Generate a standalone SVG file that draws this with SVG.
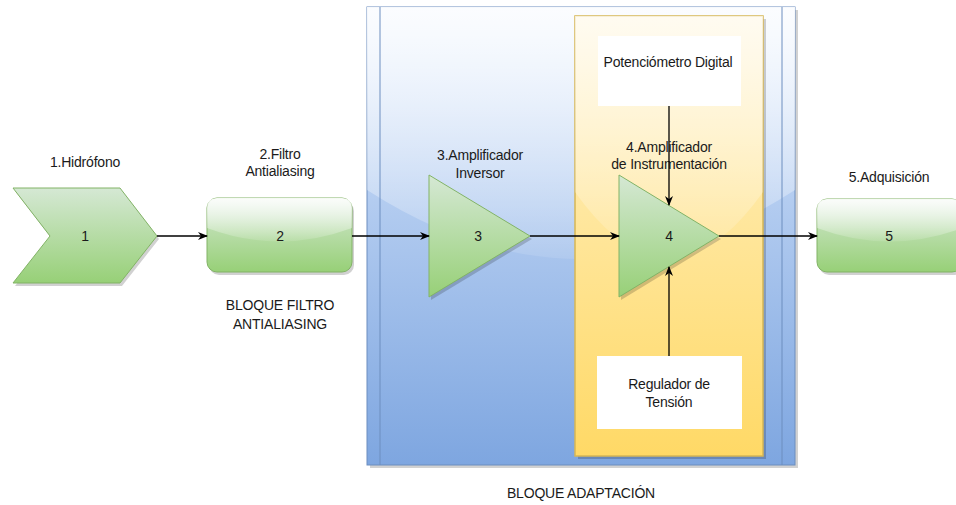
<svg xmlns="http://www.w3.org/2000/svg" width="956" height="505" viewBox="0 0 956 505">
<defs>
<linearGradient id="gGreen" x1="0" y1="0" x2="0" y2="1">
<stop offset="0" stop-color="#d5e8d4"/><stop offset="1" stop-color="#97d077"/>
</linearGradient>
<linearGradient id="gBlue" x1="0" y1="0" x2="0" y2="1">
<stop offset="0" stop-color="#dae8fc"/><stop offset="1" stop-color="#7ea6e0"/>
</linearGradient>
<linearGradient id="gYellow" x1="0" y1="0" x2="0" y2="1">
<stop offset="0" stop-color="#fff2cc"/><stop offset="1" stop-color="#ffd966"/>
</linearGradient>
<linearGradient id="gGlass" x1="0" y1="0" x2="0" y2="1">
<stop offset="0" stop-color="#ffffff" stop-opacity="0.9"/><stop offset="1" stop-color="#ffffff" stop-opacity="0.1"/>
</linearGradient>
<marker id="arr" viewBox="0 0 10 10" refX="9" refY="5" markerWidth="10" markerHeight="10" markerUnits="userSpaceOnUse" orient="auto">
<path d="M0,1 L10,5 L0,9 L3,5 Z" fill="#000"/>
</marker>
<style>
text{font-family:"Liberation Sans",Arial,sans-serif;font-size:14px;fill:#1a1a1a;text-anchor:middle;letter-spacing:-0.2px}
.green{fill:url(#gGreen);stroke:#82b366;stroke-width:1}
.shadow{fill:#000;opacity:0.18}
.glass{fill:url(#gGlass)}
.conn{stroke:#000;stroke-width:1.3;fill:none;marker-end:url(#arr)}
.white{fill:#fff;stroke:none}
</style>
</defs>

<g id="bloque-adaptacion">
<rect x="370" y="10" width="428" height="458" class="shadow"/>
<rect x="367" y="7" width="428" height="458" fill="url(#gBlue)" stroke="#6c8ebf" stroke-width="1"/>
<path d="M367,7 L795,7 L795,190 Q581,328 367,190 Z" fill="url(#gGlass)"/>
<line x1="380" y1="7" x2="380" y2="465" stroke="#6c8ebf" stroke-width="1"/>
<line x1="782" y1="7" x2="782" y2="465" stroke="#6c8ebf" stroke-width="1"/>
<text x="581" y="498">BLOQUE ADAPTACIÓN</text>
</g>

<g id="bloque-instrumentacion">
<rect x="578" y="19" width="188" height="440" class="shadow"/>
<rect x="575" y="16" width="188" height="440" fill="url(#gYellow)" stroke="#d6b656" stroke-width="1.5"/>
<path d="M575,16 L763,16 L763,192 Q669,324 575,192 Z" fill="url(#gGlass)" opacity="0.8"/>
</g>

<g id="node-potenciometro">
<rect x="598" y="36" width="143" height="70" class="white"/>
<text x="668" y="67">Potenciómetro Digital</text>
</g>

<g id="node-regulador">
<rect x="597" y="356" width="145" height="73" class="white"/>
<text x="669" y="389">Regulador de</text>
<text x="669" y="407">Tensión</text>
</g>

<g id="node-1">
<path d="M15,191 L122,191 L159,239 L122,286 L15,286 L52,239 Z" class="shadow"/>
<path d="M13,188 L120,188 L157,236 L120,283 L13,283 L50,236 Z" class="green"/>
<text x="85" y="241">1</text>
<text x="85" y="167">1.Hidrófono</text>
</g>

<g id="node-2">
<rect x="209" y="201" width="145" height="74" rx="10" class="shadow"/>
<rect x="207" y="198" width="145" height="74" rx="10" class="green"/>
<path d="M217,198 L342,198 Q352,198 352,208 L352,228 Q279.5,255 207,228 L207,208 Q207,198 217,198 Z" class="glass"/>
<text x="280" y="241">2</text>
<text x="280" y="159">2.Filtro</text>
<text x="280" y="176">Antialiasing</text>
<text x="280" y="310">BLOQUE FILTRO</text>
<text x="280" y="329">ANTIALIASING</text>
</g>

<g id="node-3">
<path d="M431,178 L532,239 L431,300 Z" class="shadow"/>
<path d="M429,175 L530,236 L429,297 Z" class="green"/>
<text x="478" y="241">3</text>
<text x="480" y="160">3.Amplificador</text>
<text x="480" y="178">Inversor</text>
</g>

<g id="node-4">
<path d="M621,178 L721,239 L621,300 Z" class="shadow"/>
<path d="M619,175 L719,236 L619,297 Z" class="green"/>
<text x="669" y="241">4</text>
<text x="669" y="152">4.Amplificador</text>
<text x="669" y="169">de Instrumentación</text>
</g>

<g id="node-5">
<rect x="819" y="202" width="145" height="73" rx="10" class="shadow"/>
<rect x="817" y="199" width="145" height="73" rx="10" class="green"/>
<path d="M827,199 L952,199 Q962,199 962,209 L962,228 Q889.5,255 817,228 L817,209 Q817,199 827,199 Z" class="glass"/>
<text x="889" y="241">5</text>
<text x="889" y="182">5.Adquisición</text>
</g>

<g id="connectors">
<line x1="157" y1="236" x2="207" y2="236" class="conn"/>
<line x1="352" y1="236" x2="429" y2="236" class="conn"/>
<line x1="530" y1="236" x2="619" y2="236" class="conn"/>
<line x1="719" y1="236" x2="817" y2="236" class="conn"/>
<line x1="669" y1="106" x2="669" y2="205" class="conn"/>
<line x1="669" y1="356" x2="669" y2="267" class="conn"/>
</g>
</svg>
